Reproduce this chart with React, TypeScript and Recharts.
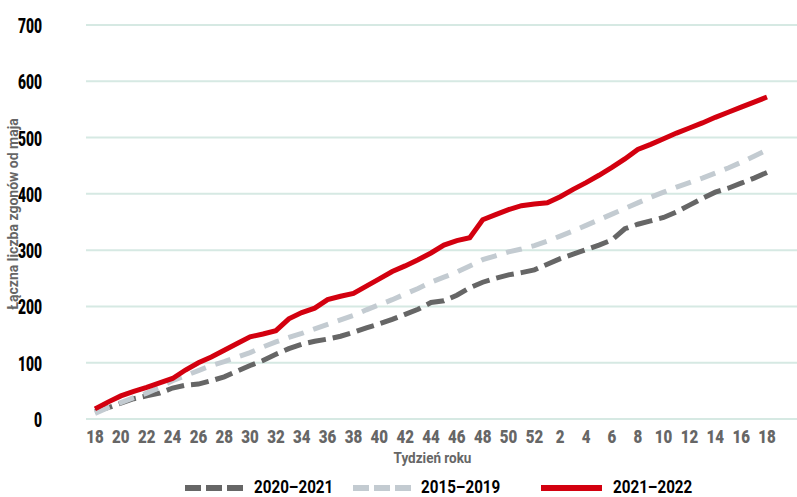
import React from "react";
import { CartesianGrid, Line, LineChart, XAxis, YAxis } from "recharts";

const weeks = [
  18, 19, 20, 21, 22, 23, 24, 25, 26, 27, 28, 29, 30, 31, 32, 33, 34, 35, 36, 37, 38, 39, 40, 41, 42, 43, 44, 45, 46, 47,
  48, 49, 50, 51, 52, 1, 2, 3, 4, 5, 6, 7, 8, 9, 10, 11, 12, 13, 14, 15, 16, 17, 18,
];

const deaths2021_2022 = [
  18, 30, 41, 49, 56, 64, 72, 87, 100, 110, 122, 134, 146, 151, 157, 178, 189, 197, 212, 218, 223, 236, 249, 262, 272,
  283, 295, 309, 317, 322, 354, 363, 372, 379, 382, 384, 395, 408, 420, 433, 447, 462, 479, 488, 498, 508, 517, 526,
  536, 545, 554, 563, 572,
];

const deaths2015_2019 = [
  10, 20, 29, 38, 46, 56, 68, 77, 86, 95, 102, 110, 118, 128, 137, 145, 152, 160, 168, 176, 184, 194, 203, 212, 222, 232,
  243, 252, 261, 272, 283, 290, 297, 302, 308, 316, 325, 334, 344, 354, 364, 374, 384, 394, 403, 412, 420, 428, 437,
  446, 456, 467, 478,
];

const deaths2020_2021 = [
  13, 20, 28, 36, 41, 46, 55, 60, 62, 68, 75, 85, 95, 104, 115, 125, 133, 138, 142, 147, 154, 162, 169, 177, 186, 195,
  207, 210, 220, 233, 243, 250, 256, 260, 265, 275, 285, 293, 301, 309, 318, 338, 346, 352, 358, 368, 380, 392, 403,
  410, 419, 428, 438,
];

const yTicks = [0, 100, 200, 300, 400, 500, 600, 700];

const seriesNames = ["2020–2021", "2015–2019", "2021–2022"];

const data = weeks.map((w, i) => ({
  idx: i,
  week: w,
  a: deaths2020_2021[i],
  b: deaths2015_2019[i],
  c: deaths2021_2022[i],
}));

const FONT = "Roboto, 'DejaVu Sans', sans-serif";
const RED = "#d3000f";
const DARK = "#666666";
const LIGHT = "#c3cbd1";

// the original uses a narrow bold face; squeeze Roboto horizontally
const XTick = (props: any) => {
  const { x, y, payload } = props;
  return (
    <g transform={`translate(${x},${y + 24})`}>
      <text transform="scale(0.84,1)" textAnchor="middle" fontFamily={FONT} fontWeight={900} fontSize={18} fill="#666">
        {weeks[payload.value]}
      </text>
    </g>
  );
};

const YTick = (props: any) => {
  const { x, y, payload } = props;
  return (
    <g transform={`translate(${x},${y + 8})`}>
      <text transform="scale(0.66,1)" textAnchor="end" fontFamily={FONT} fontWeight={900} fontSize={21} fill="#000">
        {payload.value}
      </text>
    </g>
  );
};

const YLabel = (props: any) => {
  const { viewBox } = props;
  const cy = viewBox.y + viewBox.height / 2 - 8;
  return (
    <text
      x={18}
      y={cy}
      transform={`rotate(-90 18 ${cy})`}
      textAnchor="middle"
      fontFamily={FONT}
      fontWeight={700}
      fontSize={14}
      fill="#666"
    >
      Łączna liczba zgonów od maja
    </text>
  );
};

const XLabel = (props: any) => {
  const { viewBox } = props;
  const cx = viewBox.x + viewBox.width / 2 - 9;
  return (
    <g transform={`translate(${cx},463)`}>
      <text transform="scale(0.9,1)" textAnchor="middle" fontFamily={FONT} fontWeight={700} fontSize={15} fill="#666">
        Tydzień roku
      </text>
    </g>
  );
};

const legendItems = [
  { name: seriesNames[0], color: DARK, dash: "16 5", x1: 185, x2: 243, tx: 254 },
  { name: seriesNames[1], color: LIGHT, dash: "16 5", x1: 353, x2: 413, tx: 421 },
  { name: seriesNames[2], color: RED, dash: undefined, x1: 541, x2: 602, tx: 613 },
];

export default function App() {
  return (
    <div style={{ position: "absolute", left: 0, top: 0, width: 797, height: 497, background: "#fff" }}>
      <LineChart width={797} height={497} data={data} margin={{ top: 25, right: 0, bottom: 28, left: 0 }}>
        <CartesianGrid vertical={false} stroke="#d6e9e3" strokeWidth={2} />
        <XAxis
          dataKey="idx"
          type="category"
          interval={1}
          axisLine={false}
          tickLine={false}
          tickSize={0}
          tickMargin={0}
          height={50}
          padding={{ left: 9, right: 30 }}
          tick={<XTick />}
          label={<XLabel />}
        />
        <YAxis
          domain={[0, 700]}
          ticks={yTicks}
          width={86}
          axisLine={false}
          tickLine={false}
          tickSize={0}
          tickMargin={44}
          tick={<YTick />}
          label={<YLabel />}
        />
        <Line
          dataKey="a"
          name={seriesNames[0]}
          stroke={DARK}
          strokeWidth={5}
          strokeDasharray="18 7"
          dot={false}
          isAnimationActive={false}
        />
        <Line
          dataKey="b"
          name={seriesNames[1]}
          stroke={LIGHT}
          strokeWidth={5}
          strokeDasharray="16 10"
          dot={false}
          isAnimationActive={false}
        />
        <Line dataKey="c" name={seriesNames[2]} stroke={RED} strokeWidth={5} dot={false} isAnimationActive={false} />
      </LineChart>
      <svg width={797} height={497} style={{ position: "absolute", left: 0, top: 0, pointerEvents: "none" }}>
        {legendItems.map((it) => (
          <g key={it.name}>
            <line x1={it.x1} y1={488} x2={it.x2} y2={488} stroke={it.color} strokeWidth={6} strokeDasharray={it.dash} />
            <g transform={`translate(${it.tx},493)`}>
              <text transform="scale(0.8,1)" fontFamily={FONT} fontWeight={700} fontSize={19} fill="#000">
                {it.name}
              </text>
            </g>
          </g>
        ))}
      </svg>
    </div>
  );
}
